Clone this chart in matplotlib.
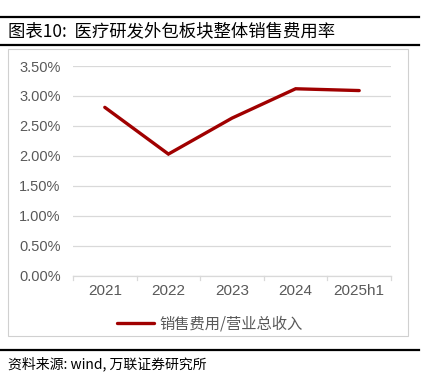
import matplotlib.pyplot as plt
from matplotlib.lines import Line2D
from matplotlib.patches import Rectangle

plt.rcParams['font.family'] = ['Noto Sans CJK SC', 'DejaVu Sans']

# data
years = ["2021", "2022", "2023", "2024", "2025h1"]
ratio = [2.81, 2.03, 2.63, 3.12, 3.09]  # 销售费用/营业总收入, %
y_ticks = [0.0, 0.5, 1.0, 1.5, 2.0, 2.5, 3.0, 3.5]

LINE_COLOR = "#A00000"
GRID_COLOR = "#D9D9D9"
TEXT_GREY = "#595959"

W, H = 431, 380
fig = plt.figure(figsize=(W / 100, H / 100), dpi=100)


def fx(px):
    return px / W


def fy(py):
    return 1 - py / H


# header rules and title
fig.add_artist(Line2D([fx(0), fx(419)], [fy(17), fy(17)], color="black", lw=1.6))
fig.add_artist(Line2D([fx(0), fx(419)], [fy(45), fy(45)], color="black", lw=1.6))
fig.text(fx(8), fy(31), "图表10:  医疗研发外包板块整体销售费用率",
         fontsize=12.5, va="center", ha="left", color="black")

# chart frame
fig.add_artist(Rectangle((fx(8), fy(336)), fx(408) - fx(8), fy(49) - fy(336),
                         fill=False, edgecolor="#D0D0D0", lw=0.8))

ax = fig.add_axes([fx(73), fy(275.7), fx(391) - fx(73), fy(66) - fy(275.7)])
x = list(range(len(years)))
ax.plot(x, ratio, color=LINE_COLOR, lw=2.4, solid_capstyle="round",
        solid_joinstyle="miter", label="销售费用/营业总收入", zorder=3)

ax.set_xlim(-0.5, len(years) - 0.5)
ax.set_ylim(0, 3.5)
ax.set_yticks(y_ticks)
ax.set_yticklabels([f"{v:.2f}%" for v in y_ticks], color=TEXT_GREY, fontsize=10.5,
                   family=["Liberation Sans"])
ax.set_xticks(x)
ax.set_xticklabels(years, color=TEXT_GREY, fontsize=11, family=["Liberation Sans"])
ax.tick_params(axis="y", length=0, pad=9)
ax.tick_params(axis="x", length=0, pad=6)
# category boundary ticks
for b in [i - 0.5 for i in range(len(years) + 1)]:
    ax.plot([b, b], [0, -0.07], color=GRID_COLOR, lw=0.9, clip_on=False)

ax.grid(axis="y", color=GRID_COLOR, lw=0.9)
ax.set_axisbelow(True)
for s in ["top", "right", "left"]:
    ax.spines[s].set_visible(False)
ax.spines["bottom"].set_color(GRID_COLOR)
ax.spines["bottom"].set_linewidth(0.9)

fig.legend(loc="center", bbox_to_anchor=(fx(210), fy(324)), frameon=False,
           fontsize=11, labelcolor=TEXT_GREY, handlelength=2.4, handletextpad=0.4)

# footer
fig.add_artist(Line2D([fx(0), fx(419)], [fy(350), fy(350)], color="black", lw=1.6))
fig.text(fx(8), fy(364), "资料来源: wind, 万联证券研究所", fontsize=10,
         va="center", ha="left", style="italic", color="black")

fig.savefig("out.png", dpi=100)
